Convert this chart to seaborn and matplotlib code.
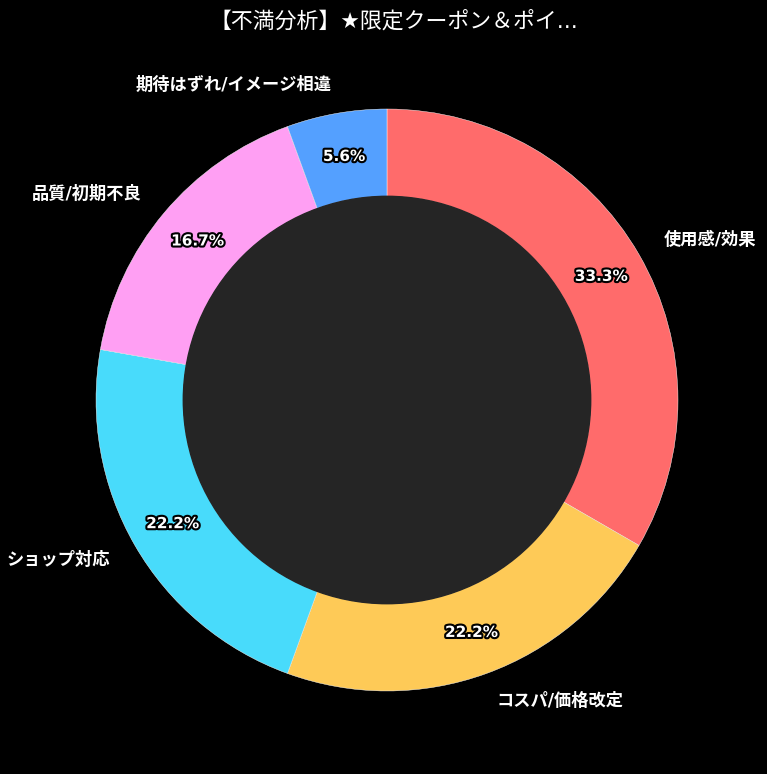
import matplotlib
matplotlib.use("Agg")
import matplotlib.pyplot as plt
import matplotlib.patheffects as pe
import seaborn as sns

# slice data
labels = ["使用感/効果", "コスパ/価格改定", "ショップ対応", "品質/初期不良", "期待はずれ/イメージ相違"]
counts = [6, 4, 4, 3, 1]
colors = ["#FF6B6B", "#FECA57", "#48DBFB", "#FF9FF3", "#54A0FF"]
title = "【不満分析】★限定クーポン＆ポイ..."

sns.set_theme(style="dark", rc={"figure.facecolor": "black", "axes.facecolor": "black"})
plt.rcParams["font.family"] = ["DejaVu Sans", "Noto Sans CJK JP"]

fig = plt.figure(figsize=(7.67, 7.74), dpi=100)
ax = fig.add_axes([0.0303, 0.0132, 0.9485, 0.94])

wedges, texts, autotexts = ax.pie(
    counts, labels=labels, colors=colors, startangle=90, counterclock=False,
    autopct="%1.1f%%", pctdistance=0.85, labeldistance=1.1,
    wedgeprops=dict(width=0.3, edgecolor="white", linewidth=0.3),
    textprops=dict(color="white", fontsize=11, fontweight="bold"))

for t in texts:
    t.set_fontsize(12.4)

for t in autotexts:
    t.set_path_effects([pe.withStroke(linewidth=3, foreground="black")])

ax.add_patch(plt.Circle((0, 0), 0.7, color="#252525", zorder=3))
ax.set_aspect("equal")

fig.text(394 / 767, 1 - 21 / 774, title, color="white", fontsize=15.75, ha="center", va="center")

fig.savefig("out.png", dpi=100, facecolor="black")
